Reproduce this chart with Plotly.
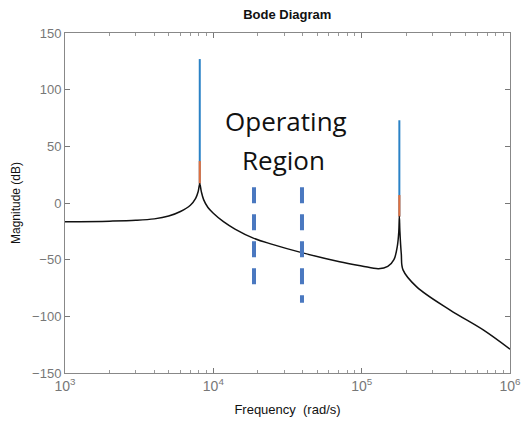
import plotly.graph_objects as go

# Black magnitude curve (rad/s, dB)
freq = [1000, 2000, 3000, 4000, 5000, 6000, 7000, 7600, 7900, 8100, 8300, 8600,
        9200, 10000, 11700, 14000, 18600, 25000, 39400, 71000, 100000, 130000,
        150000, 165000, 174000, 178000, 179500, 181000, 185000, 190000, 235000,
        395000, 660000, 1000000]
mag = [-16.5, -16, -15.3, -14, -11.5, -7.5, -2, 4, 10, 17, 10, 3,
       -4, -9, -16.5, -23, -31, -36.5, -43.8, -51.8, -55.5, -58,
       -56, -50, -38, -25, -12, -25, -45, -59, -74,
       -94.5, -112, -129]

# Resonance peaks of the other two series
peak_freq = [8100, 179500]
peak_base = [17, -12]
blue_top = [127, 73]
orange_top = [37, 7]

# Operating region markers
op_freq = [18800, 39600]
op_top = [14, 14]
op_bottom = [-73, -88]

xticks = [1e3, 1e4, 1e5, 1e6]
xtick_text = ["10<sup>3</sup>", "10<sup>4</sup>", "10<sup>5</sup>", "10<sup>6</sup>"]
yticks = [-150, -100, -50, 0, 50, 100, 150]

fig = go.Figure()

def spikes(tops):
    xs, ys = [], []
    for f, b, t in zip(peak_freq, peak_base, tops):
        xs += [f, f, None]
        ys += [b, t, None]
    return xs, ys

bx, by = spikes(blue_top)
fig.add_trace(go.Scatter(x=bx, y=by, mode="lines", line=dict(color="#2A82C6", width=2),
                         hoverinfo="skip", showlegend=False))
ox, oy = spikes(orange_top)
fig.add_trace(go.Scatter(x=ox, y=oy, mode="lines", line=dict(color="#E0703F", width=2.2),
                         hoverinfo="skip", showlegend=False))
fig.add_trace(go.Scatter(x=freq, y=mag, mode="lines", line=dict(color="#111111", width=1.5),
                         line_shape="spline", showlegend=False))

for f, t, b in zip(op_freq, op_top, op_bottom):
    fig.add_trace(go.Scatter(x=[f, f], y=[t, b], mode="lines",
                             line=dict(color="#4A78C0", width=4, dash="16px,11px"),
                             showlegend=False))

fig.add_annotation(x=4.49, y=72, xref="x", yref="y", text="Operating", showarrow=False,
                   font=dict(family="Open Sans", size=26, color="#111111"))
fig.add_annotation(x=4.47, y=38, xref="x", yref="y", text="Region", showarrow=False,
                   font=dict(family="Open Sans", size=26, color="#111111"))

fig.update_layout(
    width=526, height=424,
    margin=dict(l=65, r=16, t=33, b=51, autoexpand=False),
    paper_bgcolor="white", plot_bgcolor="white",
    title=dict(text="<b>Bode Diagram</b>", x=0.546, xanchor="center", y=0.965, yanchor="middle",
               font=dict(family="Liberation Sans", size=13, color="#111111")),
    font=dict(family="Liberation Sans", size=12, color="#111111"),
)
fig.update_xaxes(type="log", range=[3, 6], tickvals=xticks, ticktext=xtick_text,
                 automargin=False,
                 ticks="inside", ticklen=5, tickcolor="#777777", mirror="ticks",
                 showline=True, linecolor="#888888", linewidth=1, showgrid=False, zeroline=False,
                 tickfont=dict(size=14, color="#777777"),
                 minor=dict(ticks="inside", ticklen=3, tickcolor="#999999", dtick="D1"),
                 title=dict(text="Frequency  (rad/s)", font=dict(size=13, color="#111111"), standoff=12))
fig.update_yaxes(range=[-150, 150], tickvals=yticks, automargin=False,
                 ticks="inside", ticklen=5, tickcolor="#777777", mirror="ticks",
                 showline=True, linecolor="#888888", linewidth=1, showgrid=False, zeroline=False,
                 tickfont=dict(size=13, color="#777777"),
                 title=dict(text="Magnitude (dB)", font=dict(size=12, color="#111111"), standoff=8))

fig.write_html("out.html")
